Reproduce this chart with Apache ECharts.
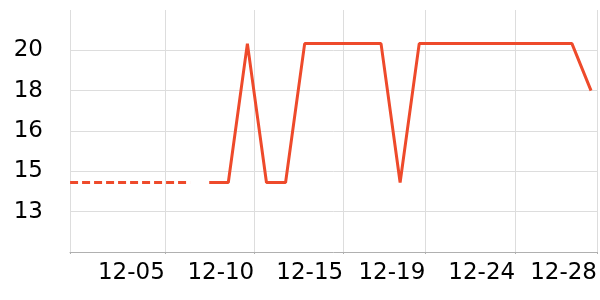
<!DOCTYPE html>
<html>
<head>
<meta charset="utf-8">
<script src="https://cdn.jsdelivr.net/npm/echarts@6/dist/echarts.min.js"></script>
<style>
  html, body { margin: 0; padding: 0; background: #fff; }
  #chart { width: 600px; height: 300px; }
</style>
</head>
<body>
<div id="chart"></div>
<script>
const YEAR = 2023;

// dashed (filled / estimated) segment
const dashedDates = ['11-30', '12-01', '12-02', '12-03', '12-04', '12-05', '12-06', '12-07'];
const dashedValues = [14.1, 14.1, 14.1, 14.1, 14.1, 14.1, 14.1, 14.1];

// measured segment
const solidDates = ['12-08', '12-09', '12-10', '12-11', '12-12', '12-13', '12-14', '12-15',
  '12-16', '12-17', '12-18', '12-19', '12-20', '12-21', '12-22', '12-23', '12-24', '12-25',
  '12-26', '12-27', '12-28'];
const solidValues = [14.1, 14.1, 20.3, 14.1, 14.1, 20.3, 20.3, 20.3,
  20.3, 20.3, 14.1, 20.3, 20.3, 20.3, 20.3, 20.3, 20.3, 20.3,
  20.3, 20.3, 18.2];

// x axis range and ticks
const xRange = ['11-30 17:00', '12-28 07:30'];
const xTickTimes = ['11-30 17:00', '12-05 16:08', '12-10 08:37', '12-15 00:23', '12-19 07:38', '12-24 00:37', '12-28 07:30'];
const xTickLabels = ['', '12-05', '12-10', '12-15', '12-19', '12-24', '12-28'];

// y axis
const yMin = 11;
const yMax = 21.8;
const yInterval = 1.8;

// convert 'MM-DD [HH:mm]' to fractional days since 1 Dec 00:00 (UTC)
const ORIGIN = Date.UTC(YEAR, 11, 1);
function dayOf(s) {
  const parts = s.split(' ');
  const md = parts[0].split('-').map(Number);
  const hm = (parts[1] || '00:00').split(':').map(Number);
  return (Date.UTC(YEAR, md[0] - 1, md[1], hm[0], hm[1]) - ORIGIN) / 86400000;
}

const tickVals = xTickTimes.map(dayOf);
const labelVals = tickVals.filter((v, i) => xTickLabels[i] !== '');
function labelFor(v) {
  for (let i = 0; i < tickVals.length; i++) {
    if (Math.abs(tickVals[i] - v) < 1e-6) return xTickLabels[i];
  }
  return '';
}

const lineColor = '#ee4a2b';
const font = 'DejaVu Sans';

const chart = echarts.init(document.getElementById('chart'), null, { renderer: 'canvas' });
chart.setOption({
  animation: false,
  backgroundColor: '#ffffff',
  grid: { left: 70, right: 0, top: 10, bottom: 48, containLabel: false },
  xAxis: {
    type: 'value',
    min: dayOf(xRange[0]),
    max: dayOf(xRange[1]),
    axisLine: { show: true, lineStyle: { color: '#b0b0b0', width: 1 } },
    axisTick: { show: true, length: 2, lineStyle: { color: '#b0b0b0' }, customValues: tickVals },
    splitLine: { show: true, showMinLine: true, showMaxLine: true, lineStyle: { color: '#dddddd', width: 1 } },
    axisLabel: {
      customValues: labelVals,
      formatter: function (v) { return labelFor(v); },
      align: 'right',
      margin: 10,
      color: '#000',
      fontFamily: font,
      fontSize: 23,
      hideOverlap: false
    }
  },
  yAxis: {
    type: 'value',
    min: yMin,
    max: yMax,
    interval: yInterval,
    axisLine: { show: false },
    axisTick: { show: true, length: 2, lineStyle: { color: '#dddddd' } },
    splitLine: { show: true, showMinLine: false, showMaxLine: false, lineStyle: { color: '#dddddd', width: 1 } },
    axisLabel: {
      formatter: function (v) { return String(Math.round(v)); },
      showMinLabel: false,
      showMaxLabel: false,
      margin: 27,
      color: '#000',
      fontFamily: font,
      fontSize: 23
    }
  },
  series: [
    {
      type: 'line',
      data: dashedDates.map((d, i) => [dayOf(d), dashedValues[i]]),
      showSymbol: false,
      symbol: 'none',
      lineStyle: { color: lineColor, width: 3, type: [8, 4], dashOffset: 10.4 },
      clip: true
    },
    {
      type: 'line',
      data: solidDates.map((d, i) => [dayOf(d), solidValues[i]]),
      showSymbol: false,
      symbol: 'none',
      lineStyle: { color: lineColor, width: 3 },
      clip: true
    }
  ]
});
</script>
</body>
</html>
